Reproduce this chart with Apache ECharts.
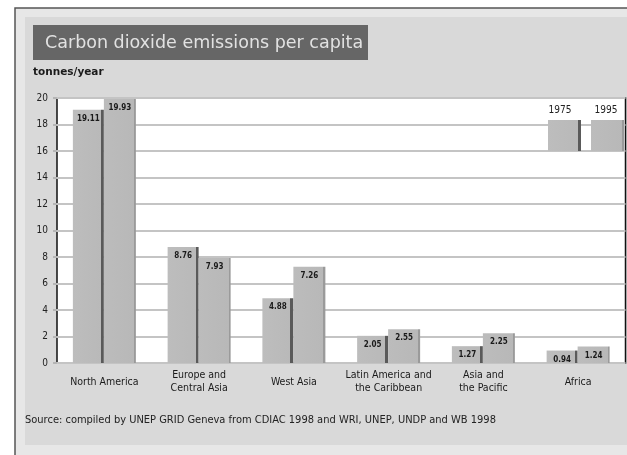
<!DOCTYPE html>
<html>
<head>
<meta charset="utf-8">
<script src="https://cdn.jsdelivr.net/npm/echarts@6/dist/echarts.min.js"></script>
<style>
  html, body { margin: 0; padding: 0; background: #ffffff; }
  #chart { width: 627px; height: 455px; }
</style>
</head>
<body>
<div id="chart"></div>
<script>
const titleText = 'Carbon dioxide emissions per capita';
const unitText = 'tonnes/year';
const sourceText = 'Source: compiled by UNEP GRID Geneva from CDIAC 1998 and WRI, UNEP, UNDP and WB 1998';
const categories = ['North America', 'Europe and\nCentral Asia', 'West Asia', 'Latin America and\nthe Caribbean', 'Asia and\nthe Pacific', 'Africa'];
const years = ['1975', '1995'];
const values1975 = [19.11, 8.76, 4.88, 2.05, 1.27, 0.94];
const values1995 = [19.93, 7.93, 7.26, 2.55, 2.25, 1.24];
const yTicks = [0, 2, 4, 6, 8, 10, 12, 14, 16, 18, 20];

const NARROW = '"Liberation Sans Narrow", "DejaVu Sans Condensed", sans-serif';
const WIDE = '"DejaVu Sans", "Liberation Sans", sans-serif';

const chart = echarts.init(document.getElementById('chart'), null, { renderer: 'canvas' });

const grad1975 = new echarts.graphic.LinearGradient(0, 0, 1, 0, [
  { offset: 0, color: '#bdbdbd' },
  { offset: 0.9, color: '#b9b9b9' },
  { offset: 0.9, color: '#5a5a5a' },
  { offset: 1, color: '#5a5a5a' }
]);
const grad1995 = new echarts.graphic.LinearGradient(0, 0, 1, 0, [
  { offset: 0, color: '#bcbcbc' },
  { offset: 0.94, color: '#b8b8b8' },
  { offset: 0.94, color: '#9a9a9a' },
  { offset: 1, color: '#9a9a9a' }
]);

const labelStyle = {
  show: true,
  position: 'insideTop',
  distance: 5,
  fontSize: 8,
  fontWeight: 'bold',
  fontFamily: NARROW,
  color: '#1a1a1a',
  formatter: p => p.value.toFixed(2)
};

const option = {
  animation: false,
  backgroundColor: '#ffffff',
  graphic: [
    { type: 'rect', z: -10, shape: { x: 15, y: 8, width: 700, height: 500 },
      style: { fill: '#e7e7e7', stroke: '#555555', lineWidth: 1.5 } },
    { type: 'rect', z: -9, shape: { x: 25, y: 17, width: 700, height: 428 },
      style: { fill: '#d9d9d9' } },
    { type: 'rect', z: -8, shape: { x: 33, y: 25, width: 335, height: 35 },
      style: { fill: '#666666' } },
    { type: 'text', z: 5, x: 45, y: 43,
      style: { text: titleText, fill: '#e2e2e2', font: '17.5px ' + WIDE, textVerticalAlign: 'middle' } },
    { type: 'text', z: 5, x: 33, y: 72,
      style: { text: unitText, fill: '#1a1a1a', font: 'bold 10.5px ' + WIDE, textVerticalAlign: 'middle' } },
    { type: 'text', z: 5, x: 25, y: 420,
      style: { text: sourceText, fill: '#222222', font: '11px ' + NARROW, textVerticalAlign: 'middle' } },
    { type: 'text', z: 5, x: 560, y: 110,
      style: { text: years[0], fill: '#222222', font: '10px ' + NARROW, textAlign: 'center', textVerticalAlign: 'middle' } },
    { type: 'text', z: 5, x: 606, y: 110,
      style: { text: years[1], fill: '#222222', font: '10px ' + NARROW, textAlign: 'center', textVerticalAlign: 'middle' } }
  ],
  legend: {
    left: 548,
    top: 120,
    itemWidth: 33,
    itemHeight: 31,
    itemGap: 10,
    padding: 0,
    icon: 'rect',
    formatter: () => '',
    textStyle: { fontSize: 1, padding: 0 },
    selectedMode: false,
    data: years
  },
  grid: {
    left: 57,
    right: 1.5,
    top: 98,
    bottom: 92,
    show: true,
    backgroundColor: '#ffffff',
    borderColor: '#111111',
    borderWidth: 1.5,
    containLabel: false
  },
  xAxis: {
    type: 'category',
    data: categories,
    axisLine: { show: false },
    axisTick: { show: false },
    axisLabel: {
      interval: 0,
      margin: 19,
      verticalAlign: 'middle',
      fontSize: 10.5,
      lineHeight: 13,
      fontFamily: NARROW,
      color: '#1a1a1a'
    },
    z: 10
  },
  yAxis: {
    type: 'value',
    min: yTicks[0],
    max: yTicks[yTicks.length - 1],
    interval: 2,
    axisLine: { show: false },
    axisTick: { show: true, length: 4, lineStyle: { color: '#b5b5b5', width: 2 } },
    axisLabel: {
      margin: 9,
      fontSize: 10,
      fontFamily: NARROW,
      color: '#222222',
      formatter: v => (yTicks.indexOf(v) >= 0 ? String(v) : '')
    },
    splitLine: { show: true, lineStyle: { color: '#c4c4c4', width: 2 } }
  },
  series: [
    {
      name: years[0],
      type: 'bar',
      data: values1975,
      barWidth: 31,
      barGap: '0%',
      itemStyle: { color: grad1975 },
      label: labelStyle,
      z: 3
    },
    {
      name: years[1],
      type: 'bar',
      data: values1995,
      barWidth: 32,
      itemStyle: { color: grad1995 },
      label: labelStyle,
      z: 3
    }
  ]
};

chart.setOption(option);
</script>
</body>
</html>
